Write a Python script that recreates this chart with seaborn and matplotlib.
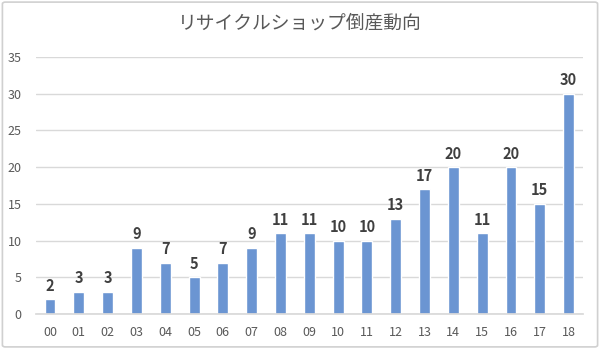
import matplotlib
matplotlib.use("Agg")
import matplotlib.pyplot as plt
import seaborn as sns
import pandas as pd
from matplotlib.patches import FancyBboxPatch

years = ["00", "01", "02", "03", "04", "05", "06", "07", "08", "09",
         "10", "11", "12", "13", "14", "15", "16", "17", "18"]
counts = [2, 3, 3, 9, 7, 5, 7, 9, 11, 11, 10, 10, 13, 17, 20, 11, 20, 15, 30]
yticks = [0, 5, 10, 15, 20, 25, 30, 35]
title = "リサイクルショップ倒産動向"

sns.set_theme(style="white")
plt.rcParams['font.family'] = ['Noto Sans CJK JP', 'DejaVu Sans']

df = pd.DataFrame({"year": years, "count": counts})

fig = plt.figure(figsize=(6.0, 3.49), dpi=100)
ax = fig.add_axes([0.0593, 0.1003, 0.9124, 0.7364])

sns.barplot(data=df, x="year", y="count", order=years, color="#6B95D2",
            saturation=1, width=0.38, ax=ax)

ax.set_ylim(0, 35)
ax.set_yticks(yticks)
ax.set_xlim(-0.5, len(years) - 0.5)
ax.yaxis.grid(True, color="#D9D9D9", linewidth=1)
ax.set_axisbelow(True)
for s in ["top", "right", "left"]:
    ax.spines[s].set_visible(False)
ax.spines["bottom"].set_color("#D9D9D9")
ax.set_xlabel("")
ax.set_ylabel("")
ax.tick_params(axis="both", length=0, labelsize=9, colors="#595959")
ax.tick_params(axis="x", pad=9)
ax.tick_params(axis="y", pad=10)

for c in ax.containers:
    ax.bar_label(c, labels=[str(v) for v in counts], padding=4,
                 fontsize=10.5, fontweight="bold", color="#404040")

fig.text(0.5, 0.935, title, ha="center", va="center", fontsize=13.5,
         color="#595959")

border = FancyBboxPatch((0.004, 0.006), 0.992, 0.988,
                        boxstyle="round,pad=0,rounding_size=0.005",
                        transform=fig.transFigure, fill=False,
                        edgecolor="#D0D0D0", linewidth=1.2)
fig.patches.append(border)

fig.savefig("out.png", dpi=100)
